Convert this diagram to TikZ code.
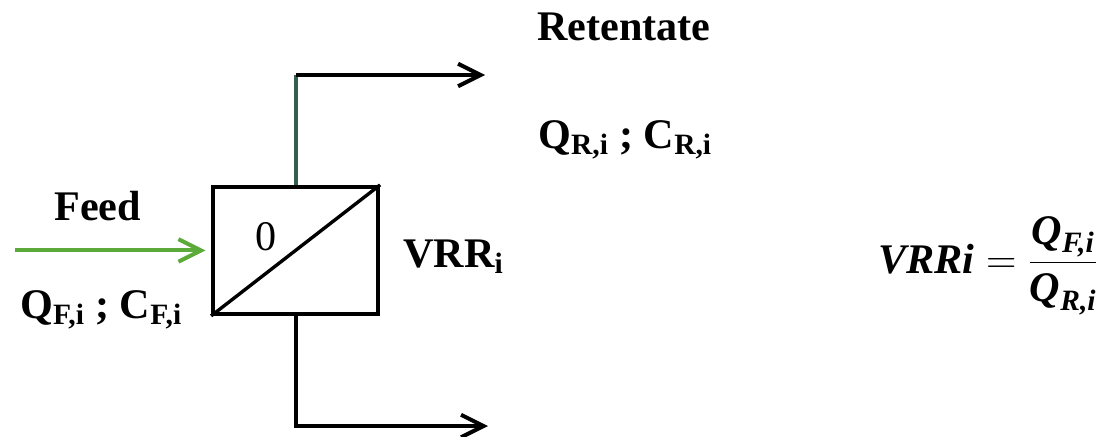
\documentclass[tikz,border=0pt]{standalone}
\usepackage{fix-cm}
\usepackage{fontspec}
\setmainfont{Liberation Serif}
\usepackage{amsmath}
\usepackage{xcolor}
\usepackage{tikz}
\usetikzlibrary{arrows.meta}
\usetikzlibrary{positioning}

\definecolor{feedgreen}{RGB}{92,170,58}
\definecolor{stemgreen}{RGB}{50,95,80}
\newcommand{\bitext}[1]{\textbf{\textit{#1}}}

\begin{document}
\begin{tikzpicture}[
        txt/.style={font=\fontsize{30}{36}\selectfont\bfseries, inner sep=0pt},
        pipe/.style={line width=2.85pt, -{Straight Barb[length=16pt,width=16pt]}}
    ]
        \useasboundingbox (0,0) rectangle (27.85,10.9);

        % Membrane module
        \node[draw, line width=2.85pt, minimum width=4.125cm, minimum height=3.175cm] (memb) at (7.39,4.64) {};
        \draw[line width=2.4pt] (memb.south west) -- (memb.north east);
        \node[font=\fontsize{30}{36}\selectfont, inner sep=0pt] (stage) at (6.65,4.975) {0};

        % Streams
        \coordinate (fstart) at (0.375,4.64);
        \coordinate (rbend) at (7.39,9.025);
        \coordinate (rend) at (12.125,9.025);
        \coordinate (pend) at (12.2,0.25);

        \draw[pipe, feedgreen, shorten >=4pt] (fstart) -- (memb.west);
        \draw[line width=2.85pt, stemgreen] (memb.north) -- (rbend);
        \draw[pipe] (rbend) -- (rend);
        \draw[pipe] (memb.south) |- (pend);

        % Labels
        \node[txt, anchor=base] (feed) at (2.44,5.4) {Feed};
        \node[txt, anchor=base west] (fqc) at (0.5,2.95) {Q\textsubscript{F,i} ; C\textsubscript{F,i}};
        \node[txt, anchor=base west] (vrr) at (10.075,4.225) {VRR\textsubscript{i}};
        \node[txt, anchor=base west] (ret) at (13.425,9.9) {Retentate};
        \node[txt, anchor=base west] (rqc) at (13.45,7.2) {Q\textsubscript{R,i} ; C\textsubscript{R,i}};

        % Volume reduction ratio
        \node[font=\fontsize{30}{36}\selectfont, inner sep=0pt, anchor=base west] (eq) at (21.95,4.075)
            {$\bitext{VRRi} = \dfrac{\bitext{Q}_{\bitext{F,i}}}{\bitext{Q}_{\bitext{R,i}}}$};
    \end{tikzpicture}
\end{document}
